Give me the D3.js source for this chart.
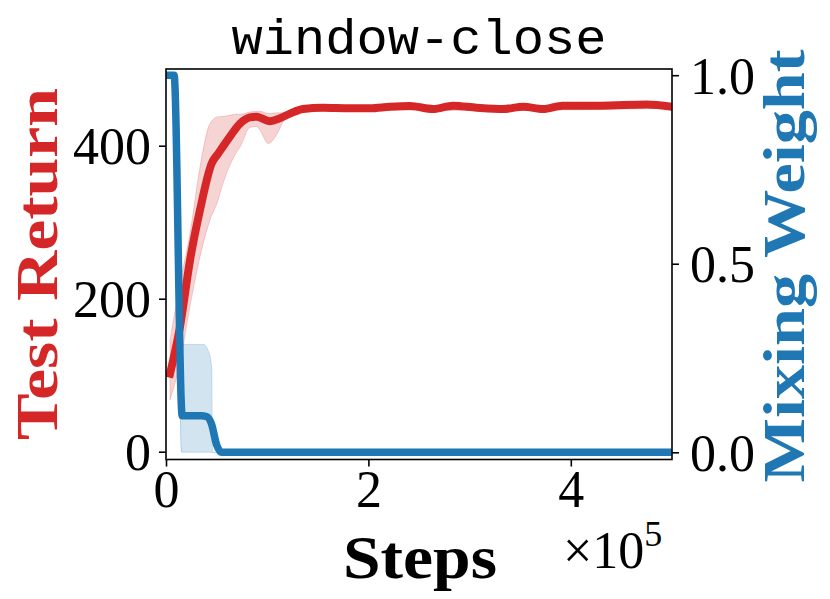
<!DOCTYPE html>
<html>
<head>
<meta charset="utf-8">
<script src="https://cdn.jsdelivr.net/npm/d3@7"></script>
<style>
  html, body { margin: 0; padding: 0; background: #fff; }
  svg { display: block; }
</style>
</head>
<body>
<svg id="chart" width="830" height="599"></svg>
<script>
// ---- data (steps in units of 1e5) ----
const title = "window-close";
const xTicks = [0, 2, 4];
const leftTicks = [0, 200, 400];
const rightTicks = [0.0, 0.5, 1.0];

// Test Return mean
const returnSteps = [0.04, 0.138, 0.237, 0.336, 0.452, 0.517, 0.632, 0.731, 0.83, 0.9, 0.95, 1.028, 1.126, 1.225, 1.354, 1.551, 1.818, 2.016, 2.213, 2.411, 2.64, 2.836, 3.07, 3.33, 3.53, 3.725, 3.92, 4.29, 4.75, 5.0];
const returnMean  = [102, 163, 250, 316, 377, 390, 412, 429, 437, 438, 435.5, 432, 436, 442, 448, 449.7, 449, 449, 451, 452, 448, 452.3, 449.7, 448, 451, 448, 452.3, 452.3, 454, 451];
// Test Return band
const returnBandSteps = [0.04, 0.138, 0.237, 0.336, 0.435, 0.517, 0.534, 0.7, 0.731, 0.83, 0.9, 0.93, 1.01, 1.1, 1.156, 1.225, 1.354, 2.0, 3.0, 4.0, 5.0];
const returnLo = [68, 116, 190, 255, 303, 330, 338, 392, 398, 424, 425, 420, 403, 416, 431, 440, 446, 447, 446, 447, 449];
const returnHi = [146, 220, 285, 372, 429, 438, 438, 441, 441, 444, 445, 445, 442, 443, 443, 445, 450, 451, 451, 453, 453];

// Mixing weight mean
const mixSteps = [0, 0.08, 0.16, 0.25, 0.35, 0.4, 0.45, 0.5, 0.55, 1, 2, 3, 4, 5];
const mixMean  = [1.0, 1.0, 0.097, 0.097, 0.097, 0.095, 0.075, 0.02, 0.0, 0, 0, 0, 0, 0];
// Mixing weight band
const mixBandSteps = [0, 0.08, 0.155, 0.3, 0.369, 0.428, 0.452, 0.46, 1, 5];
const mixLo = [1, 1, 0, 0, 0, 0, 0, 0, 0, 0];
const mixHi = [1, 1, 0.286, 0.286, 0.286, 0.262, 0.22, 0, 0, 0];

// ---- layout ----
const L = 166, R = 672, T = 69, B = 459.5;
const red = "#d62728", blue = "#1f77b4";
const serif = "'Liberation Serif', 'DejaVu Serif', serif";

const svg = d3.select("#chart");
const x = d3.scaleLinear().domain([0, 5]).range([L, R]);
const yL = d3.scaleLinear().domain([-10.2, 500.3]).range([B, T]);
const yR = d3.scaleLinear().domain([-0.0191, 1.0164]).range([B, T]);

svg.append("defs").append("clipPath").attr("id", "clip")
  .append("rect").attr("x", L).attr("y", T).attr("width", R - L).attr("height", B - T);

const g = svg.append("g").attr("clip-path", "url(#clip)");

const zip = (s, a, b) => s.map((v, i) => ({s: v, a: a[i], b: b ? b[i] : null}));

// red band
g.append("path")
  .datum(zip(returnBandSteps, returnLo, returnHi))
  .attr("d", d3.area().x(d => x(d.s)).y0(d => yL(d.a)).y1(d => yL(d.b)).curve(d3.curveMonotoneX))
  .attr("fill", red).attr("fill-opacity", 0.2)
  .attr("stroke", red).attr("stroke-opacity", 0.2).attr("stroke-width", 1);

// red line
g.append("path")
  .datum(zip(returnSteps, returnMean))
  .attr("d", d3.line().x(d => x(d.s)).y(d => yL(d.a)).curve(d3.curveMonotoneX))
  .attr("fill", "none").attr("stroke", red).attr("stroke-width", 8)
  .attr("stroke-linejoin", "round").attr("stroke-linecap", "square");

// blue band
g.append("path")
  .datum(zip(mixBandSteps, mixLo, mixHi))
  .attr("d", d3.area().x(d => x(d.s)).y0(d => yR(d.a)).y1(d => yR(d.b)).curve(d3.curveMonotoneX))
  .attr("fill", blue).attr("fill-opacity", 0.2)
  .attr("stroke", blue).attr("stroke-opacity", 0.2).attr("stroke-width", 1);

// blue line
g.append("path")
  .datum(zip(mixSteps, mixMean))
  .attr("d", d3.line().x(d => x(d.s)).y(d => yR(d.a)).curve(d3.curveMonotoneX))
  .attr("fill", "none").attr("stroke", blue).attr("stroke-width", 7.5)
  .attr("stroke-linejoin", "round").attr("stroke-linecap", "square");

// frame
svg.append("rect").attr("x", L).attr("y", T).attr("width", R - L).attr("height", B - T)
  .attr("fill", "none").attr("stroke", "#000").attr("stroke-width", 1.6);

// axes
function styleAxis(sel) {
  sel.select(".domain").remove();
  sel.selectAll(".tick line").attr("stroke", "#000").attr("stroke-width", 1.6);
  sel.selectAll(".tick text").attr("fill", "#000")
    .style("font-family", serif).style("font-size", "52px");
}
const xAxis = svg.append("g").attr("transform", `translate(0,${B})`)
  .call(d3.axisBottom(x).tickValues(xTicks).tickFormat(d3.format("d")).tickSize(7).tickPadding(4));
styleAxis(xAxis);

const leftAxis = svg.append("g").attr("transform", `translate(${L},0)`)
  .call(d3.axisLeft(yL).tickValues(leftTicks).tickFormat(d3.format("d")).tickSize(7).tickPadding(8));
styleAxis(leftAxis);
leftAxis.selectAll(".tick text").attr("dy", "0.35em");

const rightAxis = svg.append("g").attr("transform", `translate(${R},0)`)
  .call(d3.axisRight(yR).tickValues(rightTicks).tickFormat(d3.format(".1f")).tickSize(7).tickPadding(11));
styleAxis(rightAxis);
rightAxis.selectAll(".tick text").attr("dy", "0.35em");

// title
svg.append("text").attr("x", (L + R) / 2).attr("y", 54)
  .attr("text-anchor", "middle")
  .style("font-family", "'Liberation Mono', 'DejaVu Sans Mono', monospace")
  .style("font-size", "50px")
  .attr("textLength", 375).attr("lengthAdjust", "spacingAndGlyphs")
  .text(title);

// x label
svg.append("text").attr("x", 420).attr("y", 578)
  .attr("text-anchor", "middle")
  .style("font-family", serif).style("font-weight", "bold").style("font-size", "62px")
  .attr("textLength", 154).attr("lengthAdjust", "spacingAndGlyphs")
  .text("Steps");

// offset text x10^5
const off = svg.append("text").attr("x", 563).attr("y", 568)
  .style("font-family", serif).style("font-size", "52px");
off.append("tspan").text("×10");
off.append("tspan").attr("dy", -22).style("font-size", "36px").text("5");

// left label
svg.append("text")
  .attr("transform", `translate(57,264) rotate(-90)`)
  .attr("text-anchor", "middle")
  .attr("fill", red)
  .style("font-family", serif).style("font-weight", "bold").style("font-size", "60px")
  .attr("textLength", 352).attr("lengthAdjust", "spacingAndGlyphs")
  .text("Test Return");

// right label
svg.append("text")
  .attr("transform", `translate(804,266) rotate(-90)`)
  .attr("text-anchor", "middle")
  .attr("fill", blue)
  .style("font-family", serif).style("font-weight", "bold").style("font-size", "60px")
  .attr("textLength", 433).attr("lengthAdjust", "spacingAndGlyphs")
  .text("Mixing Weight");
</script>
</body>
</html>
